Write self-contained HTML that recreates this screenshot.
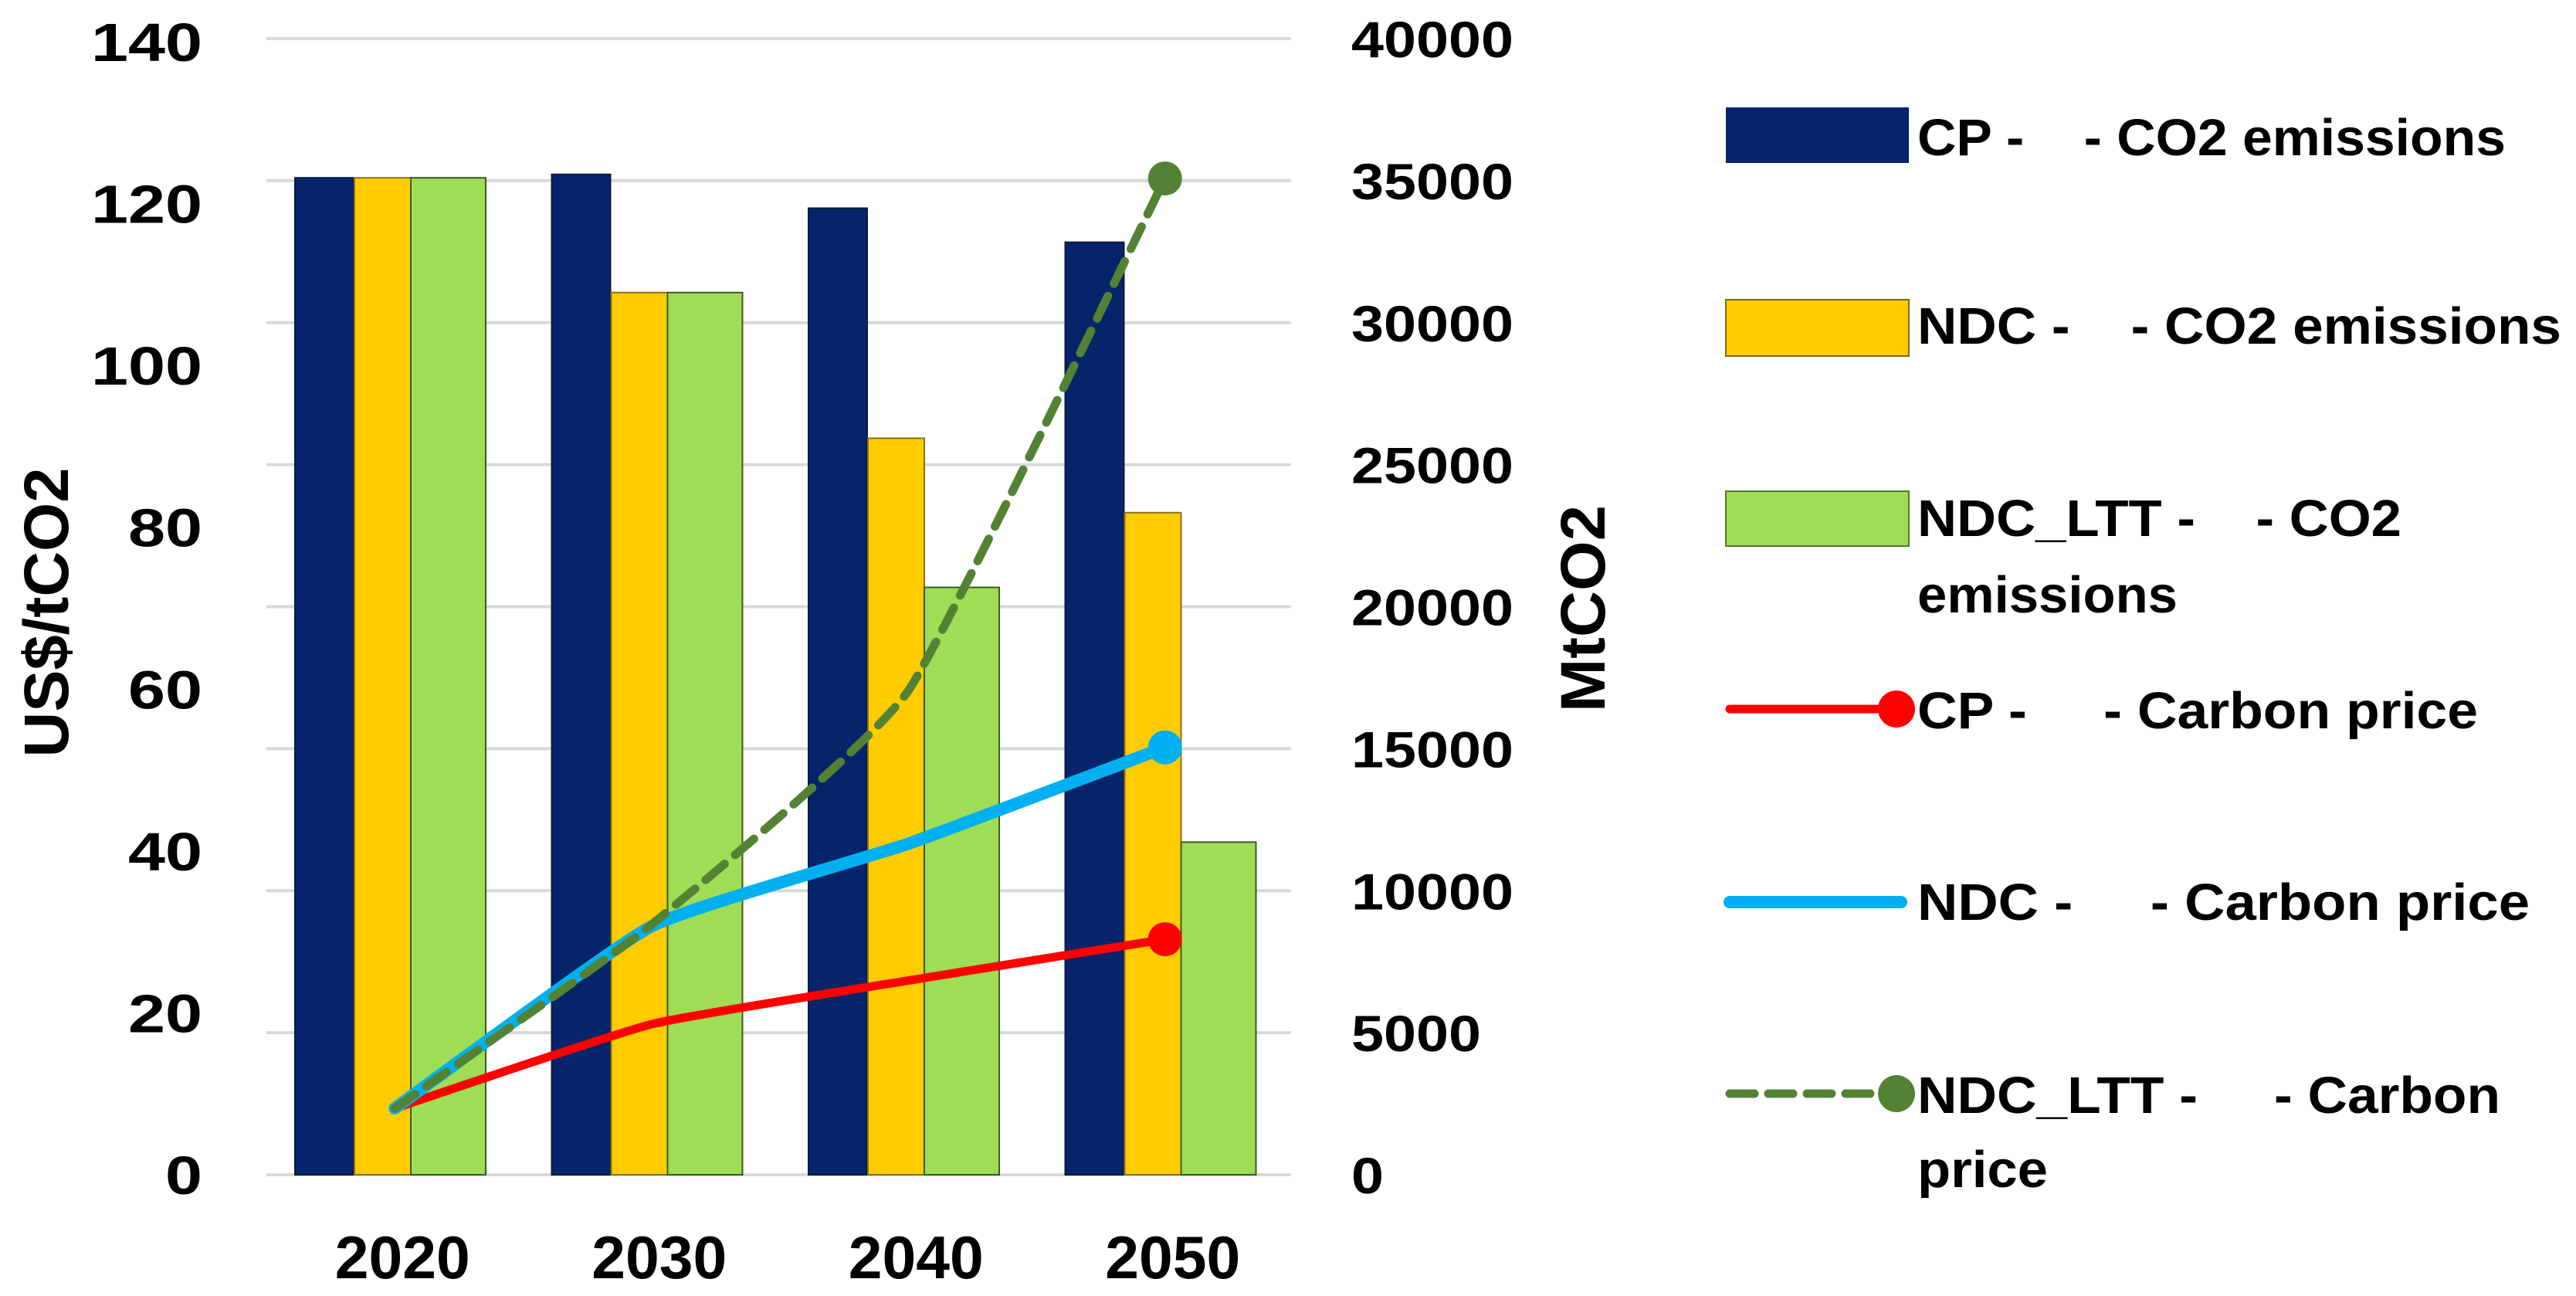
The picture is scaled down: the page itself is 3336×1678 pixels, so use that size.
<!DOCTYPE html>
<html><head><meta charset="utf-8"><style>
html,body{margin:0;padding:0;background:#fff;}
svg{display:block;}
text{font-family:"Liberation Sans",sans-serif;font-weight:bold;fill:#000;white-space:pre;}
</style></head><body>
<svg id="chart" width="3336" height="1678" viewBox="0 0 3336 1678" xmlns="http://www.w3.org/2000/svg">
<g id="grid"></g>
<g id="bars"></g>
<g id="lines"></g>
<g id="axes"></g>
<text transform="translate(88,793) rotate(-90)" text-anchor="middle" font-size="82" textLength="375" lengthAdjust="spacingAndGlyphs">US$/tCO2</text>
<text transform="translate(2078,788) rotate(-90)" text-anchor="middle" font-size="82" textLength="268" lengthAdjust="spacingAndGlyphs">MtCO2</text>
<g font-size="67">
 <g>
  <rect x="2235" y="139" width="237" height="72" fill="#06246a"/>
  <text x="2483" y="201" textLength="762" lengthAdjust="spacingAndGlyphs">CP -    - CO2 emissions</text></g>
 <g>
  <rect x="2235" y="388" width="237" height="73" fill="#ffcc00" stroke="#7a6a20" stroke-width="2"/>
  <text x="2483" y="445" textLength="834" lengthAdjust="spacingAndGlyphs">NDC -    - CO2 emissions</text></g>
 <g>
  <rect x="2235" y="636" width="237" height="71" fill="#9edd55" stroke="#4f7a2a" stroke-width="2"/>
  <text x="2483" y="694" textLength="627" lengthAdjust="spacingAndGlyphs">NDC_LTT -    - CO2</text>
  <text x="2483" y="793" textLength="337" lengthAdjust="spacingAndGlyphs">emissions</text></g>
 <g>
  <line x1="2240" y1="918" x2="2454" y2="918" stroke="#ff0000" stroke-width="11" stroke-linecap="round"/>
  <circle cx="2456" cy="918" r="24" fill="#ff0000"/>
  <text x="2483" y="943" textLength="726" lengthAdjust="spacingAndGlyphs">CP -     - Carbon price</text></g>
 <g>
  <line x1="2240" y1="1168" x2="2462" y2="1168" stroke="#00b0f0" stroke-width="16" stroke-linecap="round"/>
  <text x="2483" y="1191" textLength="793" lengthAdjust="spacingAndGlyphs">NDC -     - Carbon price</text></g>
 <g>
  <line x1="2240" y1="1416" x2="2454" y2="1416" stroke="#548235" stroke-width="11" stroke-dasharray="32,18" stroke-linecap="round"/>
  <circle cx="2456" cy="1416" r="24" fill="#548235"/>
  <text x="2483" y="1441" textLength="755" lengthAdjust="spacingAndGlyphs">NDC_LTT -     - Carbon</text>
  <text x="2483" y="1537" textLength="169" lengthAdjust="spacingAndGlyphs">price</text></g>
</g>
</svg>
<script>
const categories = ["2020","2030","2040","2050"];
const emisCP = [35100, 35220, 34030, 32830];
const emisNDC = [35100, 31060, 25930, 23310];
const emisLTT = [35100, 31060, 20680, 11710];
const priceCP = [8.2, 18.6, 24.0, 29.1];
const priceNDC = [8.2, 30.7, 40.9, 52.8];
const priceLTT = [8.2, 30.9, 59.8, 123.1];
const leftTicks = [0,20,40,60,80,100,120,140];
const rightTicks = [0,5000,10000,15000,20000,25000,30000,35000,40000];

const NS="http://www.w3.org/2000/svg";
const plotL=345, plotR=1675, yBot=1521;
const band=(plotR-plotL)/categories.length;
function yL(v){return yBot-(v/140)*(yBot-54);}
function yR(v){return yBot-(v/40000)*(yBot-50);}
function xC(i){return plotL+band*(i+0.5);}
function mk(tag,attrs,parent){const e=document.createElementNS(NS,tag);for(const k in attrs)e.setAttribute(k,attrs[k]);parent.appendChild(e);return e;}
const grid=document.getElementById('grid'),bars=document.getElementById('bars'),lines=document.getElementById('lines'),axes=document.getElementById('axes');

rightTicks.forEach(t=>{
  const l=mk('line',{x1:plotL,x2:1672,y1:yR(t),y2:yR(t),stroke:'#d9d9d9','stroke-width':4},grid);
  
  
  const tx=mk('text',{x:1750,y:yR(t)+24,'font-size':66,textLength:String(t).length*42,lengthAdjust:'spacingAndGlyphs'},axes);
  tx.textContent=t;
  
  
});
leftTicks.forEach(t=>{
  const tx=mk('text',{x:262,y:yL(t)+25,'text-anchor':'end','font-size':70,textLength:String(t).length*48,lengthAdjust:'spacingAndGlyphs'},axes);
  tx.textContent=t;
  
  
});
categories.forEach((c,i)=>{
  const tx=mk('text',{x:xC(i)+10,y:1655,'text-anchor':'middle','font-size':78,textLength:175,lengthAdjust:'spacingAndGlyphs'},axes);
  tx.textContent=c;
  
  
});
const barSeries=[[emisCP,'#06246a',37,76,'#0a1a40'],[emisNDC,'#ffcc00',114,73,'#8a7020'],[emisLTT,'#9edd55',187,97,'#3c5a22']];
barSeries.forEach(([vals,col,off,w,st],s)=>{
  vals.forEach((v,i)=>{
    const x=plotL+band*i+off;
    const r=mk('rect',{x:x,y:yR(v),width:w,height:yBot-yR(v),fill:col,stroke:st,'stroke-width':2},bars);
    
    
  });
});
function smooth(pts){
  let d='M'+pts[0][0]+','+pts[0][1];
  for(let i=0;i<pts.length-1;i++){
    const p0=pts[i-1]||pts[i],p1=pts[i],p2=pts[i+1],p3=pts[i+2]||p2;
    const t=0.07;
    d+=' C'+(p1[0]+(p2[0]-p0[0])*t)+','+(p1[1]+(p2[1]-p0[1])*t)+' '+(p2[0]-(p3[0]-p1[0])*t)+','+(p2[1]-(p3[1]-p1[1])*t)+' '+p2[0]+','+p2[1];
  }
  return d;
}
const lineSeries=[[priceCP,'#ff0000',11,null,'cp'],[priceNDC,'#00b0f0',16,null,'ndc'],[priceLTT,'#548235',11,'32,18','ndc-ltt']];
lineSeries.forEach(([vals,col,w,dash,nm])=>{
  const pts=vals.map((v,i)=>[xC(i),yL(v)]);
  const a={d:smooth(pts),fill:'none',stroke:col,'stroke-width':w,'stroke-linecap':'round','stroke-linejoin':'round'};
  if(dash)a['stroke-dasharray']=dash;
  const p=mk('path',a,lines);
  
  
  const last=pts[pts.length-1];
  const c=mk('circle',{cx:last[0],cy:last[1],r:22,fill:col},lines);
  
  
});
</script>
</body></html>
